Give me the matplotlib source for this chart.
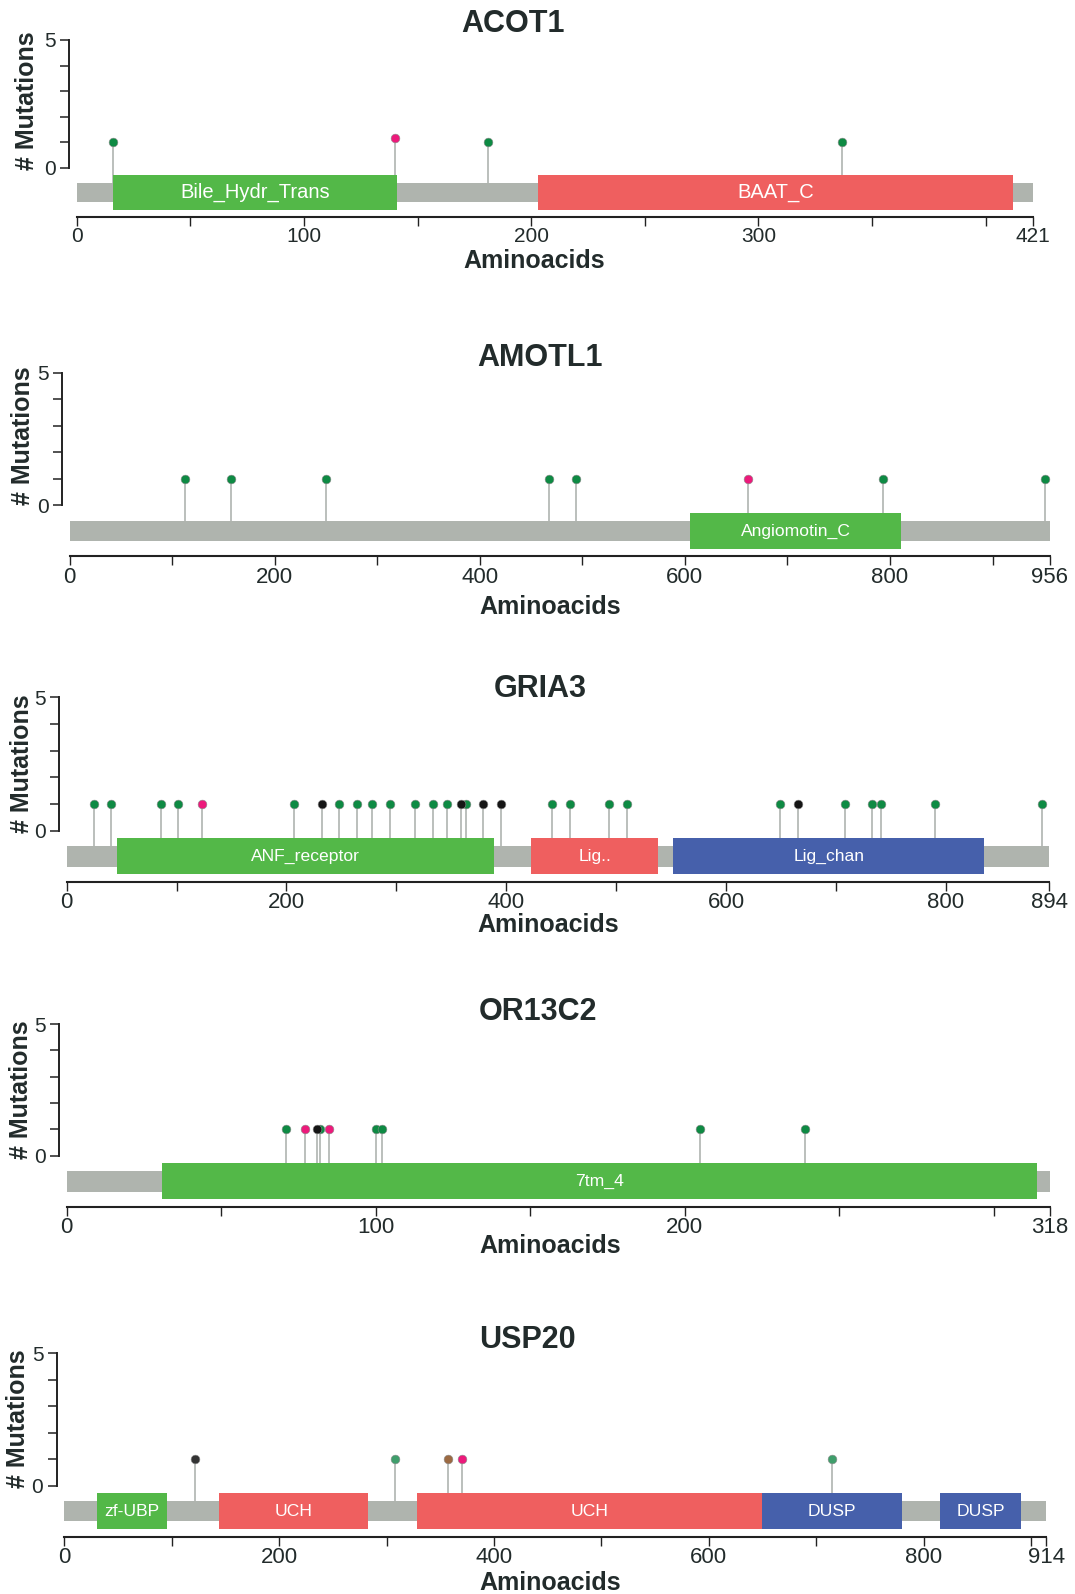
import numpy as np
import matplotlib.pyplot as plt

plt.rcParams['font.family'] = ['Liberation Sans', 'DejaVu Sans']

W, H = 1075, 1594

genes = ['ACOT1', 'AMOTL1', 'GRIA3', 'OR13C2', 'USP20']
lengths = [421, 956, 894, 318, 914]

# mutaciones: posicion (aa), numero de mutaciones, tipo
acot1_pos = [16, 140, 181, 337]
acot1_n = [1, 1.15, 1, 1]
acot1_kind = ['missense', 'truncating', 'missense', 'missense']

amotl1_pos = [113, 157, 250, 468, 494, 662, 793, 951]
amotl1_n = [1, 1, 1, 1, 1, 1, 1, 1]
amotl1_kind = ['missense'] * 5 + ['truncating'] + ['missense'] * 2

gria3_pos = [25, 40, 86, 101, 123, 207, 232, 248, 264, 278, 294, 317, 333, 346,
             363, 359, 379, 395, 442, 458, 494, 510, 649, 666, 708, 733, 741, 790, 888]
gria3_n = [1] * 29
gria3_kind = ['missense'] * 4 + ['truncating', 'missense', 'silent'] + ['missense'] * 7 + \
             ['missense', 'silent', 'silent', 'silent'] + ['missense'] * 5 + \
             ['silent'] + ['missense'] * 5

or13c2_pos = [71, 77, 82, 81, 85, 100, 102, 205, 239]
or13c2_n = [1, 1, 1, 1, 1, 1, 1, 1, 1]
or13c2_kind = ['missense', 'truncating', 'missense', 'silent', 'truncating',
               'missense', 'missense', 'missense', 'missense']

usp20_pos = [122, 308, 357, 370, 715]
usp20_n = [1, 1, 1, 1, 1]
usp20_kind = ['other', 'inframe', 'splice', 'truncating', 'inframe']

# dominios Pfam
acot1_dom = ['Bile_Hydr_Trans', 'BAAT_C']
acot1_start = [16, 203]
acot1_end = [141, 412]
acot1_dcol = ['green', 'red']

amotl1_dom = ['Angiomotin_C']
amotl1_start = [605]
amotl1_end = [811]
amotl1_dcol = ['green']

gria3_dom = ['ANF_receptor', 'Lig..', 'Lig_chan']
gria3_start = [46, 423, 552]
gria3_end = [389, 538, 835]
gria3_dcol = ['green', 'red', 'blue']

or13c2_dom = ['7tm_4']
or13c2_start = [31]
or13c2_end = [314]
or13c2_dcol = ['green']

usp20_dom = ['zf-UBP', 'UCH', 'UCH', 'DUSP', 'DUSP']
usp20_start = [30, 144, 328, 649, 815]
usp20_end = [96, 283, 649, 780, 891]
usp20_dcol = ['green', 'red', 'red', 'blue', 'blue']

# ticks del eje x
acot1_ticks = [0, 50, 100, 150, 200, 250, 300, 350, 400, 421]
acot1_labels = ['0', '', '100', '', '200', '', '300', '', '', '421']
amotl1_ticks = [0, 100, 200, 300, 400, 500, 600, 700, 800, 900, 956]
amotl1_labels = ['0', '', '200', '', '400', '', '600', '', '800', '', '956']
gria3_ticks = [0, 100, 200, 300, 400, 500, 600, 700, 800, 894]
gria3_labels = ['0', '', '200', '', '400', '', '600', '', '800', '894']
or13c2_ticks = [0, 50, 100, 150, 200, 250, 300, 318]
or13c2_labels = ['0', '', '100', '', '200', '', '', '318']
usp20_ticks = [0, 100, 200, 300, 400, 500, 600, 700, 800, 900, 914]
usp20_labels = ['0', '', '200', '', '400', '', '600', '', '800', '', '914']

mut_colors = {'missense': '#0e8a43', 'truncating': '#ec1a7b', 'silent': '#151515',
              'other': '#333333', 'inframe': '#3f9e6b', 'splice': '#9c6a42'}
dom_colors = {'green': '#53b848', 'red': '#ef5f5f', 'blue': '#4660ab'}

panels = [
    (acot1_pos, acot1_n, acot1_kind, acot1_dom, acot1_start, acot1_end, acot1_dcol, acot1_ticks, acot1_labels),
    (amotl1_pos, amotl1_n, amotl1_kind, amotl1_dom, amotl1_start, amotl1_end, amotl1_dcol, amotl1_ticks, amotl1_labels),
    (gria3_pos, gria3_n, gria3_kind, gria3_dom, gria3_start, gria3_end, gria3_dcol, gria3_ticks, gria3_labels),
    (or13c2_pos, or13c2_n, or13c2_kind, or13c2_dom, or13c2_start, or13c2_end, or13c2_dcol, or13c2_ticks, or13c2_labels),
    (usp20_pos, usp20_n, usp20_kind, usp20_dom, usp20_start, usp20_end, usp20_dcol, usp20_ticks, usp20_labels),
]

# geometria de cada panel en pixeles: x de 0, x de L, y de 5, y de 0
x0_px = [76.7, 69.5, 66.7, 66.6, 64.3]
xL_px = [1033.3, 1050, 1049, 1049.6, 1046.2]
y5_px = [40, 373, 697.3, 1024, 1353.3]
y0_px = [167.7, 505.3, 830.5, 1155.7, 1485.5]
title_xy = [(513, 24), (540, 358), (540, 689), (538, 1012), (527, 1340)]
xlab_xy = [(534, 261), (550, 607), (548, 925), (550, 1246), (550, 1583)]
ylab_xy = [(27.5, 101), (22.6, 436), (21.6, 764), (20.6, 1090), (18.5, 1419)]
dom_fs = [14.5, 12.6, 12.6, 12.6, 12.6]
tick_fs = [15, 16, 16, 16, 16]

ymin = -1.93
bar_y = -0.97
bar_h = 0.39
dom_h = 0.68
txt_col = '#222b2b'

fig = plt.figure(figsize=(W / 100, H / 100), dpi=100)

for i, (gene, L) in enumerate(zip(genes, lengths)):
    pos, n, kind, dom, ds, de, dc, ticks, labels = panels[i]
    unit = (y0_px[i] - y5_px[i]) / 5
    ybot = y0_px[i] - ymin * unit
    ax = fig.add_axes([x0_px[i] / W, 1 - ybot / H,
                       (xL_px[i] - x0_px[i]) / W, (ybot - y5_px[i]) / H])
    ax.set_xlim(0, L)
    ax.set_ylim(ymin, 5)

    # tallos y puntos
    for p, v, k in zip(pos, n, kind):
        ax.plot([p, p], [bar_y + bar_h, v], color='#b5bab6', lw=1.3, zorder=1, clip_on=False)
    # proteina
    ax.fill_between([0, L], bar_y - bar_h, bar_y + bar_h, color='#afb4ae', lw=0, zorder=2)
    for name, s, e, c in zip(dom, ds, de, dc):
        ax.fill_between([s, e], bar_y - dom_h, bar_y + dom_h, color=dom_colors[c], lw=0, zorder=3)
        ax.text((s + e) / 2, bar_y, name, color='white', fontsize=dom_fs[i],
                ha='center', va='center', zorder=4)
    for p, v, k in zip(pos, n, kind):
        ax.plot(p, v, 'o', ms=6.3, color=mut_colors[k], mec='#8c8c8c', mew=0.4,
                zorder=5, clip_on=False)

    for side in ['top', 'right']:
        ax.spines[side].set_visible(False)
    ax.spines['left'].set_bounds(0, 5)
    ax.spines['left'].set_position(('outward', 5.3))
    ax.spines['left'].set_linewidth(1.4)
    ax.spines['left'].set_color('#222222')
    ax.spines['bottom'].set_linewidth(1.5)
    ax.spines['bottom'].set_color('#222222')

    ax.set_yticks([0, 1, 2, 3, 4, 5])
    ax.set_yticklabels(['0', '', '', '', '', '5'])
    ax.set_xticks(ticks)
    ax.set_xticklabels(labels)
    ax.tick_params(axis='y', length=6.3, width=1.1, color='#222222', pad=3.5,
                   labelsize=15, labelcolor=txt_col)
    ax.tick_params(axis='x', length=6.7, width=1.0, color='#222222', pad=0.8,
                   labelsize=tick_fs[i], labelcolor=txt_col)
    ax.patch.set_alpha(0)

    fig.text(title_xy[i][0] / W, 1 - title_xy[i][1] / H, gene, fontsize=22,
             fontweight='bold', ha='center', va='center', color=txt_col)
    fig.text(xlab_xy[i][0] / W, 1 - xlab_xy[i][1] / H, 'Aminoacids', fontsize=18,
             fontweight='bold', ha='center', va='center', color=txt_col)
    fig.text(ylab_xy[i][0] / W, 1 - ylab_xy[i][1] / H, '# Mutations', fontsize=18,
             fontweight='bold', ha='center', va='center', rotation=90, color=txt_col)

fig.savefig('out.png', dpi=100)
